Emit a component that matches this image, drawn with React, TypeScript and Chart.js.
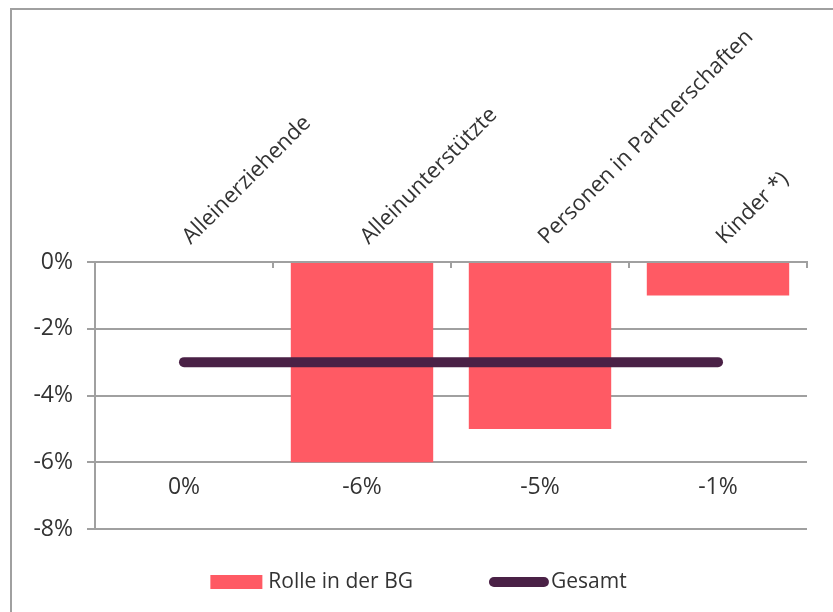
import React, { useEffect, useRef } from 'react';
import { Chart, registerables } from 'chart.js';

Chart.register(...registerables);

const categories = ['Alleinerziehende', 'Alleinunterstützte', 'Personen in Partnerschaften', 'Kinder *)'];
const rolleValues = [0, -6, -5, -1];
const gesamtValues = [-3, -3, -3, -3];
const seriesNames = ['Rolle in der BG', 'Gesamt'];
const yMin = -8;
const yMax = 0;
const yStep = 2;
const labelLevel = -6.75;

const RED = '#FF5A64';
const PURPLE = '#4A2146';
const GRID = '#A0A0A0';
const TEXT = '#333333';
const FONT = "'Open Sans', sans-serif";
const FS = 21;
const FS_TICK = 23;
const FS_CAT = 22;

const fmt = (v: number) => `${v}%`;

const framePlugin = {
  id: 'frame',
  beforeDraw(chart: any) {
    const { ctx, width, height } = chart;
    ctx.save();
    ctx.strokeStyle = GRID;
    ctx.lineWidth = 2;
    ctx.beginPath();
    ctx.moveTo(11, height + 2);
    ctx.lineTo(11, 9);
    ctx.lineTo(width + 2, 9);
    ctx.stroke();
    ctx.restore();
  },
};

const valueLabelPlugin = {
  id: 'valueLabels',
  afterDatasetsDraw(chart: any) {
    const { ctx } = chart;
    const meta = chart.getDatasetMeta(0);
    const y = chart.scales.y.getPixelForValue(labelLevel);
    ctx.save();
    ctx.font = `${FS_TICK}px ${FONT}`;
    ctx.fillStyle = TEXT;
    ctx.textAlign = 'center';
    ctx.textBaseline = 'middle';
    meta.data.forEach((bar: any, i: number) => {
      ctx.fillText(fmt(rolleValues[i]), bar.x, y);
    });
    ctx.restore();
  },
};

const legendPlugin = {
  id: 'customLegend',
  afterDraw(chart: any) {
    const { ctx, width } = chart;
    const ds = chart.data.datasets;
    ctx.save();
    ctx.font = `${FS}px ${FONT}`;
    ctx.textBaseline = 'middle';
    ctx.textAlign = 'left';
    const boxW = 52;
    const lineW = 60;
    const gap1 = 6;
    const gapItems = 76;
    const gap2 = 2;
    const t1 = ctx.measureText(ds[0].label).width;
    const t2 = ctx.measureText(ds[1].label).width;
    const total = boxW + gap1 + t1 + gapItems + lineW + gap2 + t2;
    let x = (width - total) / 2 + 2;
    const cy = 582;
    ctx.fillStyle = ds[0].backgroundColor;
    ctx.fillRect(x, cy - 7, boxW, 14);
    x += boxW + gap1;
    ctx.fillStyle = TEXT;
    ctx.fillText(ds[0].label, x, cy);
    x += t1 + gapItems;
    ctx.strokeStyle = ds[1].borderColor;
    ctx.lineWidth = 10;
    ctx.lineCap = 'round';
    ctx.beginPath();
    ctx.moveTo(x + 5, cy);
    ctx.lineTo(x + lineW - 5, cy);
    ctx.stroke();
    x += lineW + gap2;
    ctx.fillStyle = TEXT;
    ctx.fillText(ds[1].label, x, cy);
    ctx.restore();
  },
};

export default function App() {
  const ref = useRef<HTMLCanvasElement | null>(null);
  useEffect(() => {
    if (!ref.current) return;
    const chart = new Chart(ref.current, {
      type: 'bar',
      data: {
        labels: categories,
        datasets: [
          {
            type: 'bar',
            label: seriesNames[0],
            data: rolleValues,
            backgroundColor: RED,
            borderWidth: 0,
            barPercentage: 0.8,
            categoryPercentage: 1,
            order: 1,
          },
          {
            type: 'line',
            label: seriesNames[1],
            data: gesamtValues,
            borderColor: PURPLE,
            backgroundColor: PURPLE,
            borderWidth: 10,
            borderCapStyle: 'round',
            pointRadius: 0,
            pointHoverRadius: 0,
            fill: false,
            order: 0,
          } as any,
        ],
      },
      options: {
        animation: false,
        responsive: true,
        maintainAspectRatio: false,
        layout: { padding: { left: 0, right: 26, top: 0, bottom: 83 } },
        plugins: {
          legend: { display: false },
          tooltip: { enabled: false },
        },
        scales: {
          x: {
            position: 'top',
            offset: true,
            grid: {
              display: true,
              offset: true,
              drawOnChartArea: false,
              drawTicks: true,
              tickLength: -6,
              color: GRID,
              lineWidth: 2,
            },
            border: { display: true, color: GRID, width: 2 },
            ticks: {
              autoSkip: false,
              maxRotation: 45,
              minRotation: 45,
              padding: 18,
              labelOffset: 21,
              color: TEXT,
              font: { family: FONT, size: FS_CAT },
            },
            afterFit: (scale: any) => {
              scale.height = 262;
            },
          },
          y: {
            min: yMin,
            max: yMax,
            ticks: {
              stepSize: yStep,
              padding: 14,
              color: TEXT,
              font: { family: FONT, size: FS_TICK },
              callback: (v: any) => fmt(Number(v)),
            },
            grid: {
              color: GRID,
              lineWidth: 2,
              tickLength: 8,
              drawTicks: true,
            },
            border: { display: true, color: GRID, width: 2 },
            afterFit: (scale: any) => {
              scale.width = 95;
            },
          },
        },
      },
      plugins: [framePlugin, valueLabelPlugin, legendPlugin],
    });
    return () => chart.destroy();
  }, []);
  return (
    <div style={{ position: 'fixed', left: 0, top: 0, width: 833, height: 612, background: '#fff' }}>
      <canvas ref={ref} />
    </div>
  );
}
